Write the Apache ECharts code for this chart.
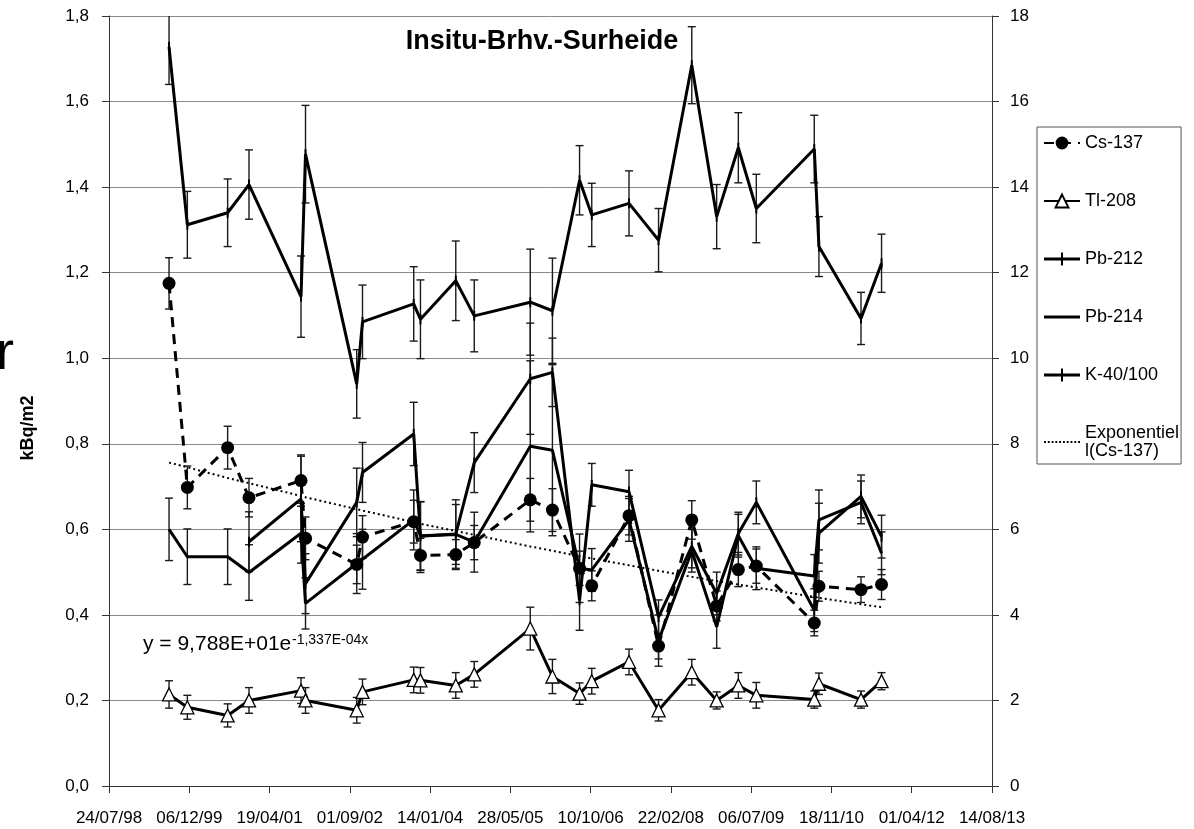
<!DOCTYPE html>
<html>
<head>
<meta charset="utf-8">
<script src="https://cdn.jsdelivr.net/npm/echarts@6/dist/echarts.min.js"></script>
<style>
html,body{margin:0;padding:0;background:#fff;}
#chart{width:1194px;height:829px;}
</style>
</head>
<body>
<div id="chart"></div>
<script>
// Measurement dates as Excel day numbers (day 36000 = 24/07/1998)
const dates = [36374, 36488, 36739, 36872, 37196, 37224, 37543, 37579, 37898, 37940, 38160, 38275, 38624,
               38762, 38931, 39007, 39239, 39423, 39630, 39785, 39920, 40032, 40393, 40422, 40684, 40812];

const cs137    = [1.175, 0.698, 0.791, 0.674, 0.714, 0.579, 0.518, 0.582, 0.618, 0.539, 0.541, 0.569, 0.669,
                  0.645, 0.509, 0.468, 0.632, 0.327, 0.622, 0.421, 0.506, 0.514, 0.381, 0.467, 0.459, 0.471];
const cs137Err = [0.06, 0.05, 0.05, 0.045, 0.06, 0.05, 0.045, 0.05, 0.05, 0.04, 0.035, 0.04, 0.05,
                  0.05, 0.04, 0.035, 0.045, 0.03, 0.045, 0.035, 0.04, 0.04, 0.03, 0.035, 0.03, 0.035];

const tl208    = [0.214, 0.184, 0.165, 0.200, 0.223, 0.200, 0.177, 0.220, 0.248, 0.247, 0.235, 0.261, 0.368,
                  0.256, 0.216, 0.245, 0.290, 0.177, 0.266, 0.200, 0.235, 0.212, 0.202, 0.239, 0.202, 0.245];
const tl208Err = [0.032, 0.028, 0.027, 0.03, 0.03, 0.03, 0.03, 0.03, 0.03, 0.03, 0.03, 0.03, 0.05,
                  0.04, 0.025, 0.03, 0.03, 0.025, 0.03, 0.02, 0.03, 0.03, 0.02, 0.025, 0.02, 0.02];

const pb212    = [null, null, null, 0.571, 0.671, 0.473, 0.663, 0.733, 0.823, 0.584, 0.589, 0.756, 0.952,
                  0.967, 0.434, 0.704, 0.688, 0.395, 0.560, 0.450, 0.590, 0.663, 0.411, 0.591, 0.677, 0.583];
const pb212Err = [null, null, null, 0.07, 0.10, 0.07, 0.08, 0.07, 0.074, 0.08, 0.08, 0.07, 0.13,
                  0.08, 0.07, 0.05, 0.05, 0.04, 0.05, 0.05, 0.05, 0.05, 0.05, 0.07, 0.05, 0.05];

const pb214    = [0.600, 0.536, 0.536, 0.499, 0.591, 0.427, 0.520, 0.530, 0.622, 0.585, 0.588, 0.570, 0.794,
                  0.785, 0.509, 0.505, 0.622, 0.340, 0.550, 0.372, 0.585, 0.509, 0.491, 0.622, 0.663, 0.544];
const pb214Err = [0.073, 0.065, 0.065, 0.065, 0.07, 0.06, 0.07, 0.07, 0.07, 0.08, 0.07, 0.07, 0.20,
                  0.20, 0.08, 0.05, 0.05, 0.06, 0.05, 0.05, 0.05, 0.05, 0.05, 0.07, 0.05, 0.05];

const k40      = [1.728, 1.312, 1.340, 1.406, 1.144, 1.477, 0.940, 1.085, 1.127, 1.091, 1.181, 1.099, 1.131,
                  1.111, 1.416, 1.335, 1.362, 1.276, 1.685, 1.331, 1.492, 1.350, 1.489, 1.261, 1.093, 1.222];
const k40Err   = [0.088, 0.078, 0.079, 0.081, 0.095, 0.114, 0.08, 0.086, 0.087, 0.092, 0.093, 0.084, 0.124,
                  0.123, 0.081, 0.074, 0.076, 0.074, 0.09, 0.075, 0.082, 0.08, 0.079, 0.07, 0.061, 0.068];

const csTrend  = [0.756, 0.745, 0.720, 0.708, 0.678, 0.675, 0.647, 0.644, 0.617, 0.613, 0.596, 0.587, 0.560,
                  0.550, 0.537, 0.532, 0.516, 0.503, 0.489, 0.479, 0.471, 0.464, 0.442, 0.440, 0.425, 0.418];

const seriesNames = ['Cs-137', 'Tl-208', 'Pb-212', 'Pb-214', 'K-40/100', 'Exponentiel l(Cs-137)'];
const chartTitle = 'Insitu-Brhv.-Surheide';
const leftAxisName = 'kBq/m2';
const equationMain = 'y = 9,788E+01e';
const equationExp = '-1,337E-04x';

const FONT = '"Liberation Sans", Arial, sans-serif';

function pts(vals) {
  const out = [];
  vals.forEach((v, i) => { if (v !== null) out.push([dates[i], v]); });
  return out;
}
function errPts(vals, errs) {
  const out = [];
  vals.forEach((v, i) => { if (v !== null) out.push([dates[i], v - errs[i], v + errs[i]]); });
  return out;
}
function fmtDate(v) {
  const d = new Date(Date.UTC(1899, 11, 30) + Math.round(v) * 86400000);
  const dd = String(d.getUTCDate()).padStart(2, '0');
  const mm = String(d.getUTCMonth() + 1).padStart(2, '0');
  const yy = String(d.getUTCFullYear() % 100).padStart(2, '0');
  return dd + '/' + mm + '/' + yy;
}
function errRender(params, api) {
  const x = api.value(0), lo = api.value(1), hi = api.value(2);
  const a = api.coord([x, hi]), b = api.coord([x, lo]);
  const w = 4;
  const st = { stroke: '#1a1a1a', lineWidth: 1.4 };
  return {
    type: 'group',
    children: [
      { type: 'line', shape: { x1: a[0], y1: a[1], x2: b[0], y2: b[1] }, style: st },
      { type: 'line', shape: { x1: a[0] - w, y1: a[1], x2: a[0] + w, y2: a[1] }, style: st },
      { type: 'line', shape: { x1: b[0] - w, y1: b[1], x2: b[0] + w, y2: b[1] }, style: st }
    ]
  };
}
function errSeries(vals, errs) {
  return {
    type: 'custom', renderItem: errRender, data: errPts(vals, errs),
    encode: { x: 0, y: [1, 2] }, clip: true, z: 1, silent: true
  };
}

const PLUS_ICON = 'path://M0,7 H36 V10 H0 Z M17,2 H19 V15 H17 Z';
const LINE_ICON = 'path://M0,7 H36 V10 H0 Z';
const DOT_ICON = 'path://M0,8 h2 v2 h-2 Z M4,8 h2 v2 h-2 Z M8,8 h2 v2 h-2 Z M12,8 h2 v2 h-2 Z M16,8 h2 v2 h-2 Z ' +
                 'M20,8 h2 v2 h-2 Z M24,8 h2 v2 h-2 Z M28,8 h2 v2 h-2 Z M32,8 h2 v2 h-2 Z M36,8 h2 v2 h-2 Z';
const TICK_SYMBOL = 'path://M0,0 H2 V10 H0 Z';

const chart = echarts.init(document.getElementById('chart'), null, { renderer: 'canvas' });

const option = {
  backgroundColor: '#ffffff',
  animation: false,
  textStyle: { fontFamily: FONT },
  grid: { left: 109, right: 202, top: 16, bottom: 43, containLabel: false },
  xAxis: {
    type: 'value', min: 36000, max: 41500, interval: 500,
    axisLine: { show: true, lineStyle: { color: '#333', width: 1 } },
    axisTick: { show: true, inside: false, length: 7, lineStyle: { color: '#333' } },
    axisLabel: { formatter: fmtDate, fontSize: 17, color: '#000', margin: 24, fontFamily: FONT, showMaxLabel: true, showMinLabel: true },
    splitLine: { show: false }
  },
  yAxis: [
    {
      type: 'value', min: 0, max: 1.8, interval: 0.2, position: 'left',
      axisLine: { show: true, lineStyle: { color: '#333', width: 1 } },
      axisTick: { show: true, inside: false, length: 7, lineStyle: { color: '#333' } },
      axisLabel: { formatter: v => v.toFixed(1).replace('.', ','), fontSize: 17, color: '#000', margin: 20, fontFamily: FONT },
      splitLine: { show: true, lineStyle: { color: '#8a8a8a', width: 1 } }
    },
    {
      type: 'value', min: 0, max: 18, interval: 2, position: 'right',
      axisLine: { show: true, lineStyle: { color: '#333', width: 1 } },
      axisTick: { show: true, inside: false, length: 7, lineStyle: { color: '#333' } },
      axisLabel: { formatter: v => String(Math.round(v)), fontSize: 17, color: '#000', margin: 18, fontFamily: FONT },
      splitLine: { show: false }
    }
  ],
  legend: {
    orient: 'vertical', left: 1037, top: 127,
    padding: [7, 2, 4, 6],
    itemWidth: 36, itemHeight: 16, itemGap: 40,
    borderColor: '#555', borderWidth: 1, borderRadius: 0,
    textStyle: { fontSize: 18, color: '#000', fontFamily: FONT },
    data: [
      { name: seriesNames[0] },
      { name: seriesNames[1] },
      { name: seriesNames[2], icon: PLUS_ICON },
      { name: seriesNames[3], icon: LINE_ICON },
      { name: seriesNames[4], icon: PLUS_ICON },
      { name: seriesNames[5], icon: DOT_ICON }
    ],
    formatter: n => n === seriesNames[5] ? 'Exponentiel\nl(Cs-137)' : n
  },
  series: [
    errSeries(k40, k40Err),
    errSeries(pb214, pb214Err),
    errSeries(pb212, pb212Err),
    errSeries(tl208, tl208Err),
    errSeries(cs137, cs137Err),
    {
      name: seriesNames[4], type: 'line', data: pts(k40), z: 3,
      symbol: TICK_SYMBOL, symbolSize: [2, 10], itemStyle: { color: '#000' },
      lineStyle: { color: '#000', width: 3 }
    },
    {
      name: seriesNames[3], type: 'line', data: pts(pb214), z: 3,
      symbol: 'none', itemStyle: { color: '#000' },
      lineStyle: { color: '#000', width: 3 }
    },
    {
      name: seriesNames[2], type: 'line', data: pts(pb212), z: 3,
      symbol: TICK_SYMBOL, symbolSize: [2, 10], itemStyle: { color: '#000' },
      lineStyle: { color: '#000', width: 3 }
    },
    {
      name: seriesNames[5], type: 'line', data: pts(csTrend), z: 3,
      symbol: 'none', itemStyle: { color: '#000' },
      lineStyle: { color: '#000', width: 2, type: [2, 3] }
    },
    {
      name: seriesNames[1], type: 'line', data: pts(tl208), z: 4,
      symbol: 'triangle', symbolSize: 13,
      itemStyle: { color: '#fff', borderColor: '#000', borderWidth: 1.3 },
      lineStyle: { color: '#000', width: 3 }
    },
    {
      name: seriesNames[0], type: 'line', data: pts(cs137), z: 5,
      symbol: 'circle', symbolSize: 13,
      itemStyle: { color: '#000', borderColor: '#000', borderWidth: 0 },
      lineStyle: { color: '#000', width: 3, type: [10, 7] }
    }
  ],
  graphic: [
    {
      type: 'text', x: 542, y: 42,
      style: { text: chartTitle, font: 'bold 27px ' + FONT, fill: '#000', textAlign: 'center', textVerticalAlign: 'middle' }
    },
    {
      type: 'text', x: 143, y: 644,
      style: { text: equationMain, font: '21px ' + FONT, fill: '#000', textAlign: 'left', textVerticalAlign: 'middle' }
    },
    {
      type: 'text', x: 292, y: 640,
      style: { text: equationExp, font: '14px ' + FONT, fill: '#000', textAlign: 'left', textVerticalAlign: 'middle' }
    },
    {
      type: 'text', x: 28, y: 428, rotation: Math.PI / 2,
      style: { text: leftAxisName, font: 'bold 18px ' + FONT, fill: '#000', textAlign: 'center', textVerticalAlign: 'middle' }
    },
    {
      type: 'text', x: -4, y: 354,
      style: { text: 'r', font: '54px ' + FONT, fill: '#000', textAlign: 'left', textVerticalAlign: 'middle' }
    }
  ]
};
chart.setOption(option);
</script>
</body>
</html>
